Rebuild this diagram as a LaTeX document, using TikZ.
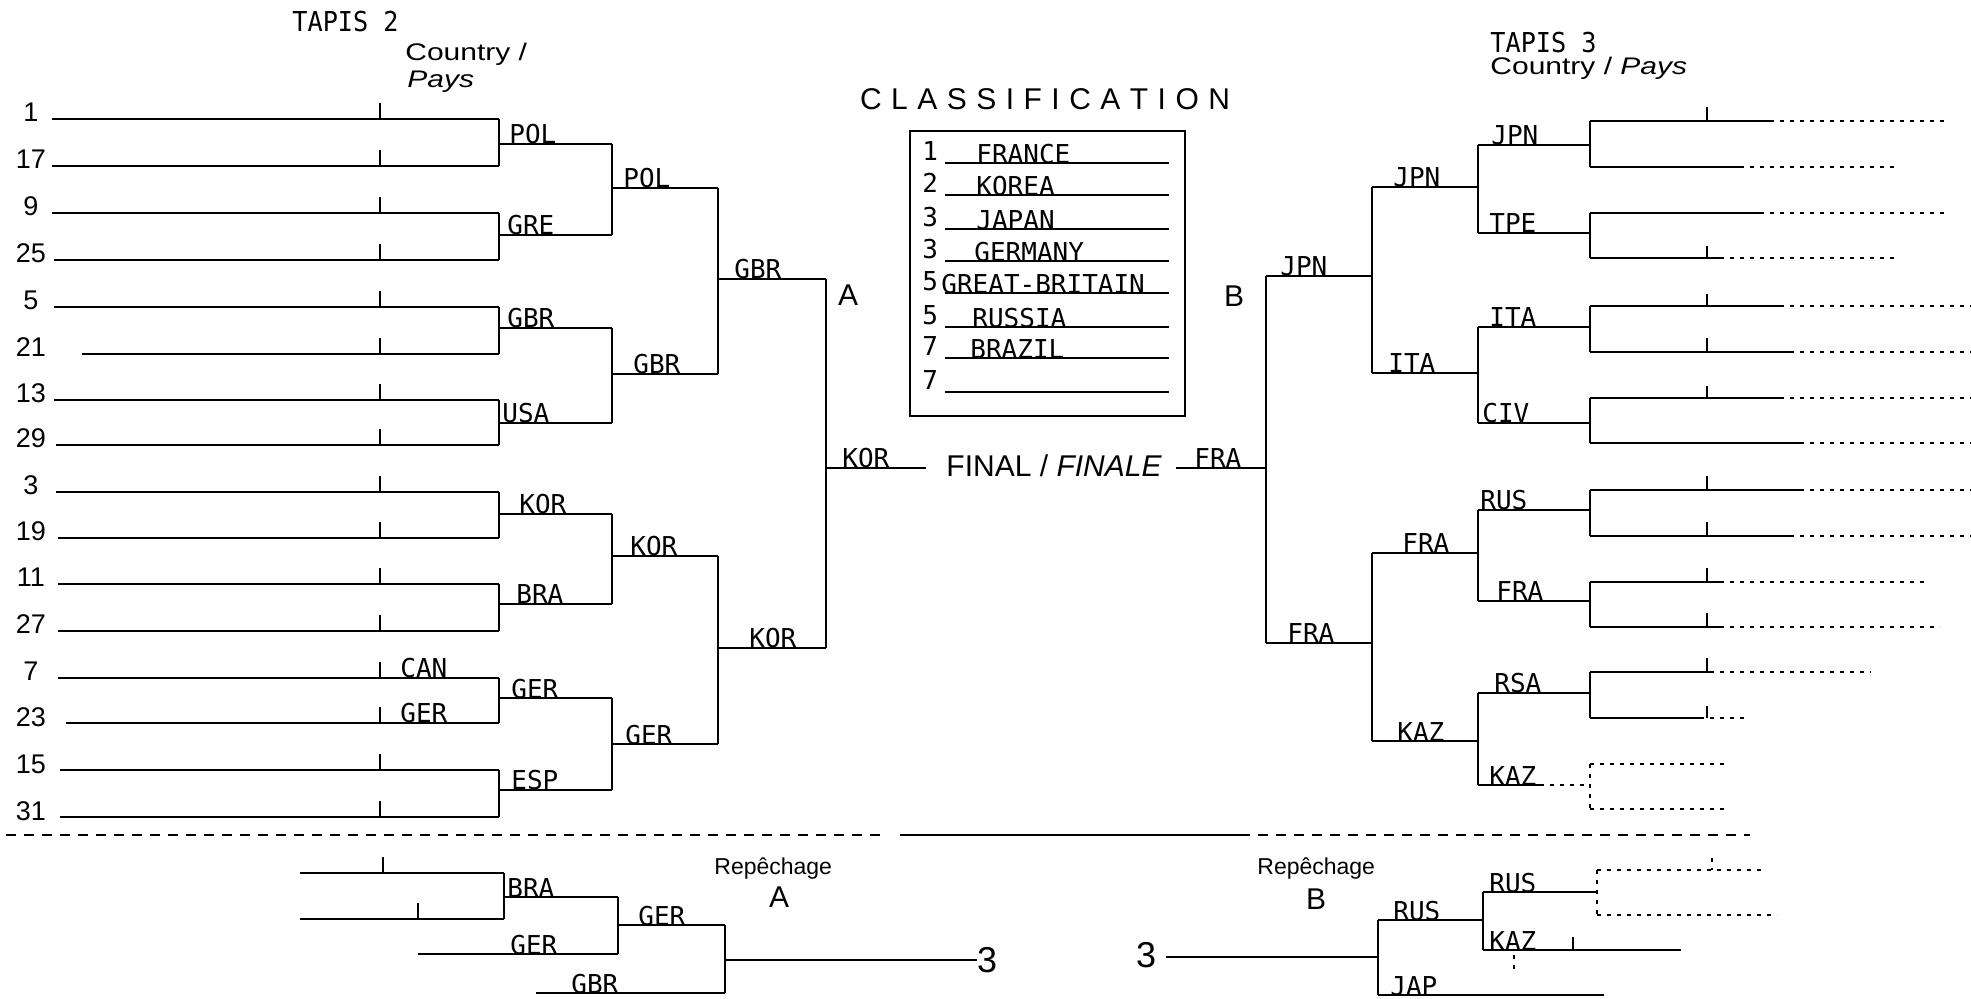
\documentclass[tikz,border=0pt]{standalone}
\usepackage{fontspec}
\setmainfont{Liberation Sans}
\newfontfamily\monof{DejaVu Sans Mono}
\newfontfamily\tapisf[FakeStretch=0.92]{DejaVu Sans Mono}
\newfontfamily\widesans[FakeStretch=1.25]{Liberation Sans}
\begin{document}
\begin{tikzpicture}[x=0.5pt,y=-0.5pt,
  br/.style={line width=1.1pt, line cap=square},
  faint/.style={line width=0.7pt, dash pattern=on 2pt off 3pt},
  tk/.style={line width=0.8pt},
  sep/.style={line width=0.9pt, dash pattern=on 5pt off 4pt},
  lbl/.style={font=\monof\fontsize{13}{15}\selectfont, anchor=base west, inner sep=0pt},
  num/.style={font=\fontsize{13.5}{15}\selectfont, anchor=base, inner sep=0pt},
  hd/.style={font=\tapisf\fontsize{13.7}{16}\selectfont, anchor=base west, inner sep=0pt},
  wsans/.style={font=\widesans\fontsize{12}{14}\selectfont, anchor=base west, inner sep=0pt},
  sans/.style={font=\fontsize{15}{17}\selectfont, anchor=base west, inner sep=0pt},
  small/.style={font=\fontsize{11.5}{13}\selectfont, anchor=base west, inner sep=0pt},
  hand/.style={font=\fontsize{18}{20}\selectfont, anchor=center, inner sep=0pt},
]
\fill[white] (0,0) rectangle (1971,999);
\useasboundingbox (0,0) rectangle (1971,999);

% headings
\node[hd] (tapis2) at (292,32) {TAPIS 2};
\node[wsans] (country2) at (405,61) {Country /};
\node[wsans] (pays2) at (407,88) {\itshape Pays};
\node[hd] (tapis3) at (1490,53) {TAPIS 3};
\node[wsans] (country3) at (1490,75) {Country / \itshape Pays};

% ---------------- left half ----------------
\foreach \n/\y/\s [count=\i] in {1/119/52,17/166/52,9/213/52,25/260/54,5/307/54,21/354/82,13/400/54,29/445/56,3/492/56,19/538/58,11/584/58,27/631/58,7/678/58,23/723/66,15/770/60,31/817/60}{
  \node[num] (ln\i) at (31,\y+3) {\n};
  \coordinate (la\i) at (\s,\y);
  \coordinate (lb\i) at (499,\y);
  \coordinate (lt\i) at (380,\y-16);
  \draw[br] (la\i) -- (lb\i);
  \draw[tk] (lt\i) -- (lt\i |- la\i);
}
\node[lbl] (can) at (400,678) {CAN};
\node[lbl] (ger0) at (400,723) {GER};

\foreach \a/\b/\k/\ym/\t/\lx in {1/2/1/144/POL/509, 3/4/2/235/GRE/507, 5/6/3/328/GBR/507, 7/8/4/423/USA/502, 9/10/5/514/KOR/519, 11/12/6/604/BRA/516, 13/14/7/698/GER/511, 15/16/8/790/ESP/511}{
  \coordinate (p\k) at (499,\ym);
  \coordinate (pe\k) at (612,\ym);
  \draw[br] (lb\a) -- (lb\b);
  \draw[br] (p\k) -- (pe\k);
  \node[lbl] (lw\k) at (\lx,\ym) {\t};
}
\foreach \a/\b/\k/\ym/\t/\lx in {1/2/1/188/POL/623, 3/4/2/374/GBR/633, 5/6/3/556/KOR/630, 7/8/4/744/GER/625}{
  \coordinate (q\k) at (612,\ym);
  \coordinate (qe\k) at (718,\ym);
  \draw[br] (pe\a) -- (pe\b);
  \draw[br] (q\k) -- (qe\k);
  \node[lbl] (lq\k) at (\lx,\ym) {\t};
}
\foreach \a/\b/\k/\ym/\t/\lx in {1/2/1/279/GBR/734, 3/4/2/648/KOR/749}{
  \coordinate (s\k) at (718,\ym);
  \coordinate (se\k) at (826,\ym);
  \draw[br] (qe\a) -- (qe\b);
  \draw[br] (s\k) -- (se\k);
  \node[lbl] (ls\k) at (\lx,\ym) {\t};
}
\draw[br] (se1) -- (se2);
\node[sans, anchor=center] (lA) at (848,295) {A};

% final
\coordinate (fl) at (826,468);
\coordinate (fle) at (926,468);
\draw[br] (fl) -- (fle);
\node[lbl] (fkor) at (842,468) {KOR};
\node[sans, anchor=base] (final) at (1054,477) {FINAL / \itshape FINALE};
\coordinate (fr) at (1176,468);
\coordinate (fre) at (1266,468);
\draw[br] (fr) -- (fre);
\node[lbl] (ffra) at (1194,468) {FRA};
\node[sans, anchor=center] (lB) at (1234,296) {B};

% classification
\node[sans, anchor=base] (ctitle) at (1045,110) {\makebox[185pt][s]{C L A S S I F I C A T I O N}};
\node[draw, line width=0.9pt, minimum width=137.5pt, minimum height=142.5pt, inner sep=0pt, anchor=north west] (cbox) at (909,130) {};
\foreach \r/\nm/\x/\y [count=\i] in {1/FRANCE/976/163, 2/KOREA/976/195, 3/JAPAN/976/229, 3/GERMANY/974/261, 5/GREAT-BRITAIN/941/293, 5/RUSSIA/972/327, 7/BRAZIL/970/358, 7/{}/976/392}{
  \node[lbl] (cr\i) at (922,\y-2) {\r};
  \node[lbl] (cn\i) at (\x,\y+1) {\nm};
  \coordinate (cu\i) at (945,\y);
  \coordinate (cv\i) at (1169,\y);
  \draw[line width=0.8pt] (cu\i) -- (cv\i);
}

% ---------------- right half ----------------
\coordinate (t1) at (1266,276); \coordinate (te1) at (1372,276);
\coordinate (t2) at (1266,643); \coordinate (te2) at (1372,643);
\draw[br] (t1) -- (t2);
\draw[br] (t1) -- (te1);
\draw[br] (t2) -- (te2);
\node[lbl] (rt1) at (1280,276) {JPN};
\node[lbl] (rt2) at (1287,643) {FRA};

\foreach \k/\y/\t/\lx in {1/187/JPN/1393, 2/373/ITA/1388, 3/553/FRA/1402, 4/741/KAZ/1397}{
  \coordinate (u\k) at (1372,\y);
  \coordinate (ue\k) at (1478,\y);
  \draw[br] (u\k) -- (ue\k);
  \node[lbl] (ru\k) at (\lx,\y) {\t};
}
\draw[br] (u1) -- (u2);
\draw[br] (u3) -- (u4);

\foreach \k/\y/\t/\lx in {1/145/JPN/1491, 2/233/TPE/1489, 3/327/ITA/1489, 4/423/CIV/1482, 5/510/RUS/1480, 6/601/FRA/1496, 7/693/RSA/1494, 8/785/KAZ/1489}{
  \coordinate (v\k) at (1478,\y);
  \coordinate (ve\k) at (1590,\y);
  \node[lbl] (rv\k) at (\lx,\y) {\t};
}
\foreach \k in {1,...,7}{\draw[br] (v\k) -- (ve\k);}
\coordinate (v8m) at (1540,785);
\draw[br] (v8) -- (v8m);
\draw[faint] (v8m) -- (ve8);
\draw[br] (v1) -- (v2);
\draw[br] (v3) -- (v4);
\draw[br] (v5) -- (v6);
\draw[br] (v7) -- (v8);

\foreach \y/\se/\fe/\tl [count=\i] in {121/1770/1945/14, 167/1740/1894/0, 213/1760/1945/0, 258/1720/1894/12, 306/1780/1971/12, 352/1790/1971/14, 398/1780/1971/12, 443/1800/1971/0, 490/1800/1971/14, 536/1790/1971/14, 582/1720/1926/14, 627/1720/1940/14, 672/1710/1871/14, 718/1700/1749/12, 764/1590/1724/0, 809/1590/1724/0}{
  \coordinate (ra\i) at (1590,\y);
  \coordinate (rs\i) at (\se,\y);
  \coordinate (rf\i) at (\fe,\y);
  \coordinate (rk\i) at (1707,\y-\tl);
  \draw[br] (ra\i) -- (rs\i);
  \draw[faint] (rs\i) -- (rf\i);
  \draw[tk] (rk\i) -- (rk\i |- ra\i);
}
\foreach \a/\b in {1/2,3/4,5/6,7/8,9/10,11/12,13/14}{\draw[br] (ra\a) -- (ra\b);}
\draw[faint] (ra15) -- (ra16);

% separator
\coordinate (sepA) at (6,835);
\coordinate (sepB) at (885,835);
\coordinate (sepC) at (900,835);
\coordinate (sepD) at (1240,835);
\coordinate (sepE) at (1750,835);
\draw[sep] (sepA) -- (sepB);
\draw[br] (sepC) -- (sepD);
\draw[sep] (sepD) -- (sepE);

% ---------------- repechage A ----------------
\node[small] (repA) at (714,874) {Repêchage};
\node[sans, anchor=center] (repAl) at (779,897) {A};
\coordinate (ra1a) at (300,873); \coordinate (ra1b) at (504,873);
\coordinate (ra2a) at (300,919); \coordinate (ra2b) at (504,919);
\draw[br] (ra1a) -- (ra1b);
\draw[br] (ra2a) -- (ra2b);
\draw[tk] (383,857) -- (383,873);
\draw[tk] (418,903) -- (418,919);
\draw[br] (ra1b) -- (ra2b);
\coordinate (rbA) at (504,897); \coordinate (rbAe) at (618,897);
\draw[br] (rbA) -- (rbAe);
\node[lbl] (rbAl) at (507,897) {BRA};
\coordinate (rgA) at (418,954); \coordinate (rgAe) at (618,954);
\draw[br] (rgA) -- (rgAe);
\node[lbl] (rgAl) at (510,954) {GER};
\draw[br] (rbAe) -- (rgAe);
\coordinate (rhA) at (618,925); \coordinate (rhAe) at (725,925);
\draw[br] (rhA) -- (rhAe);
\node[lbl] (rhAl) at (638,925) {GER};
\coordinate (rkA) at (536,993); \coordinate (rkAe) at (725,993);
\draw[br] (rkA) -- (rkAe);
\node[lbl] (rkAl) at (571,993) {GBR};
\draw[br] (rhAe) -- (rkAe);
\node[hand] (threeA) at (987,960) {3};
\coordinate (rmA) at (725,960);
\draw[br] (rmA) -- (threeA.west);

% ---------------- repechage B ----------------
\node[small] (repB) at (1257,874) {Repêchage};
\node[sans, anchor=center] (repBl) at (1316,899) {B};
\node[hand] (threeB) at (1146,955) {3};
\coordinate (rmB) at (1378,957);
\draw[br] (threeB.east) ++(10,2) -- (rmB);
\coordinate (rbB) at (1378,920); \coordinate (rbBe) at (1483,920);
\coordinate (rjB) at (1378,995); \coordinate (rjBe) at (1604,995);
\draw[br] (rbB) -- (rjB);
\draw[br] (rbB) -- (rbBe);
\draw[br] (rjB) -- (rjBe);
\node[lbl] (rbBl) at (1393,920) {RUS};
\node[lbl] (rjBl) at (1390,995) {JAP};
\coordinate (rrB) at (1483,892); \coordinate (rrBe) at (1597,892);
\coordinate (rzB) at (1483,950); \coordinate (rzBe) at (1681,950);
\draw[br] (rrB) -- (rzB);
\draw[br] (rrB) -- (rrBe);
\draw[br] (rzB) -- (rzBe);
\node[lbl] (rrBl) at (1489,892) {RUS};
\node[lbl] (rzBl) at (1489,950) {KAZ};
\draw[tk] (1573,937) -- (1573,950);
\draw[faint] (1514,955) -- (1514,972);
\coordinate (rxB) at (1597,870); \coordinate (rxBe) at (1761,870);
\coordinate (ryB) at (1597,915); \coordinate (ryBe) at (1777,915);
\draw[faint] (rxB) -- (ryB);
\draw[faint] (rxB) -- (rxBe);
\draw[faint] (ryB) -- (ryBe);
\draw[faint] (1712,858) -- (1712,870);
\end{tikzpicture}
\end{document}
